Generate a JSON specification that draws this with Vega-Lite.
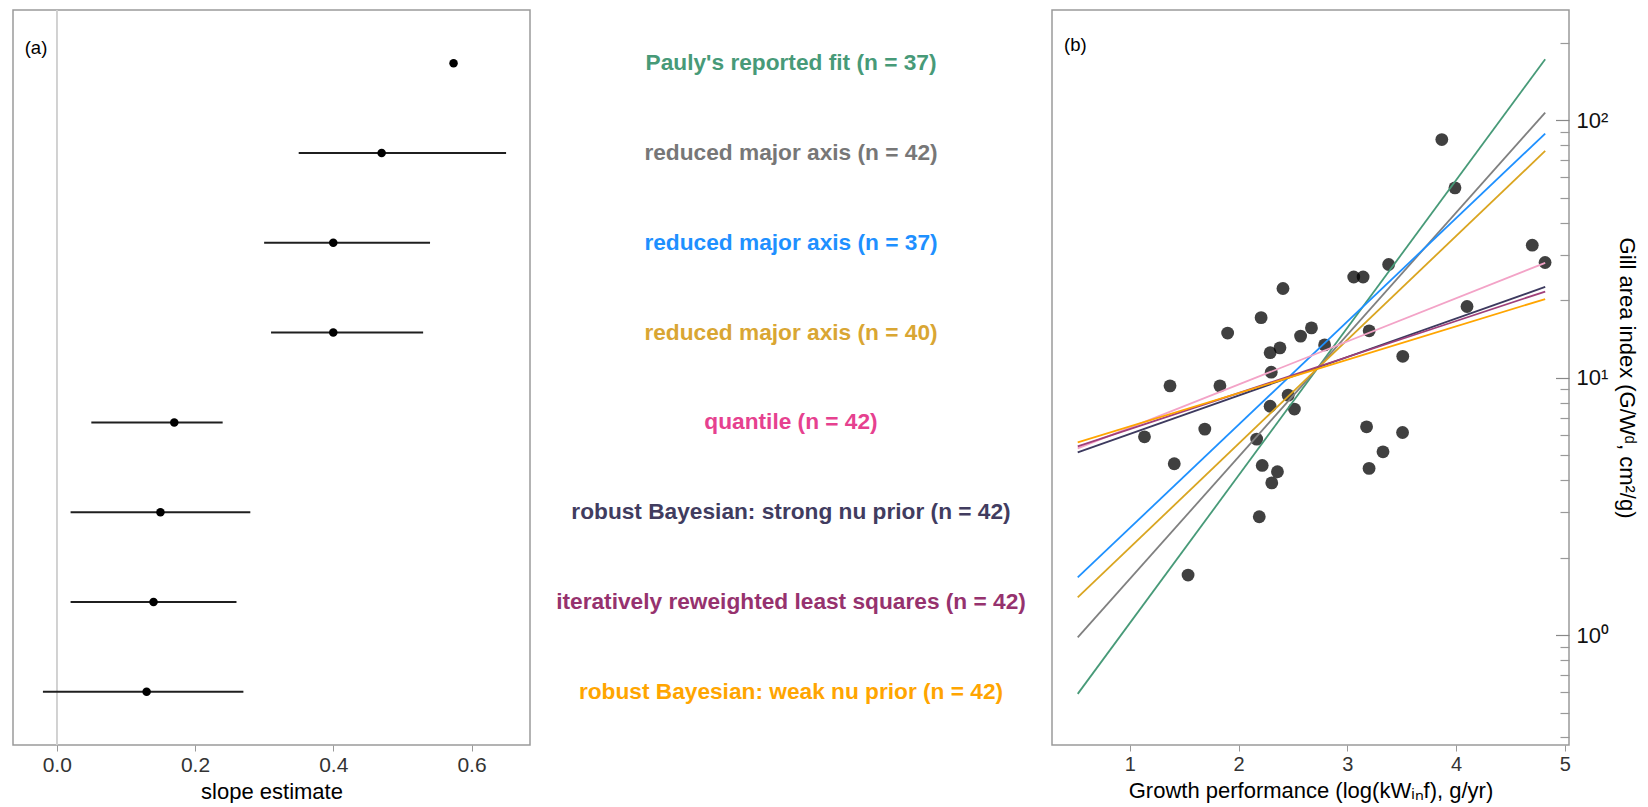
{
  "$schema": "https://vega.github.io/schema/vega-lite/v6.json",
  "background": "white",
  "padding": {"left": 12, "top": 8, "right": 0, "bottom": 0},
  "spacing": 0,
  "bounds": "flush",
  "config": {
    "font": "Liberation Sans",
    "view": {"stroke": "#9a9a9a", "strokeWidth": 1.5},
    "axis": {
      "labelFont": "Liberation Sans",
      "titleFont": "Liberation Sans",
      "titleFontWeight": "normal",
      "labelColor": "#333333",
      "titleColor": "#000000",
      "tickColor": "#999999",
      "grid": false,
      "domain": false
    }
  },
  "datasets": {
    "slopes": [
      {"label": "Pauly's reported fit (n = 37)", "est": 0.574, "lo": null, "hi": null},
      {"label": "reduced major axis (n = 42)", "est": 0.47, "lo": 0.35, "hi": 0.65},
      {"label": "reduced major axis (n = 37)", "est": 0.40, "lo": 0.30, "hi": 0.54},
      {"label": "reduced major axis (n = 40)", "est": 0.40, "lo": 0.31, "hi": 0.53},
      {"label": "quantile (n = 42)", "est": 0.17, "lo": 0.05, "hi": 0.24},
      {"label": "robust Bayesian: strong nu prior (n = 42)", "est": 0.15, "lo": 0.02, "hi": 0.28},
      {"label": "iteratively reweighted least squares (n = 42)", "est": 0.14, "lo": 0.02, "hi": 0.26},
      {"label": "robust Bayesian: weak nu prior (n = 42)", "est": 0.13, "lo": -0.02, "hi": 0.27}
    ],
    "gill": [
      {"x": 3.869, "y": 84.1}, {"x": 3.990, "y": 54.6}, {"x": 4.701, "y": 32.7},
      {"x": 4.819, "y": 28.0}, {"x": 3.380, "y": 27.5}, {"x": 3.059, "y": 24.6},
      {"x": 3.145, "y": 24.6}, {"x": 2.408, "y": 22.2}, {"x": 2.207, "y": 17.1},
      {"x": 1.899, "y": 14.9}, {"x": 4.101, "y": 18.9}, {"x": 3.201, "y": 15.2},
      {"x": 2.670, "y": 15.6}, {"x": 2.570, "y": 14.5}, {"x": 2.791, "y": 13.4},
      {"x": 2.380, "y": 13.05}, {"x": 2.290, "y": 12.5}, {"x": 3.510, "y": 12.1},
      {"x": 2.300, "y": 10.5}, {"x": 1.369, "y": 9.29}, {"x": 1.828, "y": 9.29},
      {"x": 2.456, "y": 8.55}, {"x": 2.290, "y": 7.74}, {"x": 2.513, "y": 7.55},
      {"x": 1.134, "y": 5.89}, {"x": 1.689, "y": 6.31}, {"x": 3.177, "y": 6.44},
      {"x": 3.508, "y": 6.12}, {"x": 2.166, "y": 5.77}, {"x": 1.408, "y": 4.63},
      {"x": 2.217, "y": 4.56}, {"x": 2.357, "y": 4.31}, {"x": 3.328, "y": 5.15},
      {"x": 3.200, "y": 4.44}, {"x": 2.305, "y": 3.90}, {"x": 2.190, "y": 2.88},
      {"x": 1.535, "y": 1.71}
    ],
    "fits": [
      {"label": "Pauly's reported fit (n = 37)", "x": 0.52, "y": 0.591},
      {"label": "Pauly's reported fit (n = 37)", "x": 4.82, "y": 172.6},
      {"label": "reduced major axis (n = 42)", "x": 0.52, "y": 0.979},
      {"label": "reduced major axis (n = 42)", "x": 4.82, "y": 107.0},
      {"label": "reduced major axis (n = 37)", "x": 0.52, "y": 1.674},
      {"label": "reduced major axis (n = 37)", "x": 4.82, "y": 88.7},
      {"label": "reduced major axis (n = 40)", "x": 0.52, "y": 1.40},
      {"label": "reduced major axis (n = 40)", "x": 4.82, "y": 76.0},
      {"label": "quantile (n = 42)", "x": 0.52, "y": 5.31},
      {"label": "quantile (n = 42)", "x": 4.82, "y": 27.9},
      {"label": "robust Bayesian: strong nu prior (n = 42)", "x": 0.52, "y": 5.12},
      {"label": "robust Bayesian: strong nu prior (n = 42)", "x": 4.82, "y": 22.5},
      {"label": "iteratively reweighted least squares (n = 42)", "x": 0.52, "y": 5.41},
      {"label": "iteratively reweighted least squares (n = 42)", "x": 4.82, "y": 21.6},
      {"label": "robust Bayesian: weak nu prior (n = 42)", "x": 0.52, "y": 5.60},
      {"label": "robust Bayesian: weak nu prior (n = 42)", "x": 4.82, "y": 20.2}
    ]
  },
  "hconcat": [
    {
      "width": 517,
      "height": 735,
      "data": {"name": "slopes"},
      "layer": [
        {
          "mark": {"type": "rule", "color": "#d0d0d0", "strokeWidth": 1},
          "encoding": {
            "x": {"datum": 0, "type": "quantitative",
                  "scale": {"domain": [-0.0633, 0.6846], "nice": false, "zero": false},
                  "axis": {"values": [0, 0.2, 0.4, 0.6], "format": ".1f", "tickSize": 6, "labelFontSize": 21, "labelPadding": 3, "title": "slope estimate", "titleFontSize": 22, "titlePadding": 6}}
          }
        },
        {
          "mark": {"type": "rule", "color": "#1f1f1f", "strokeWidth": 2},
          "encoding": {
            "x": {"field": "lo", "type": "quantitative",
                  "scale": {"domain": [-0.0633, 0.6846], "nice": false, "zero": false},
                  "axis": {"values": [0, 0.2, 0.4, 0.6], "format": ".1f", "tickSize": 6, "labelFontSize": 21, "labelPadding": 3, "title": "slope estimate", "titleFontSize": 22, "titlePadding": 6}},
            "x2": {"field": "hi"},
            "y": {"field": "label", "type": "nominal",
                  "scale": {"type": "point", "domain": ["Pauly's reported fit (n = 37)", "reduced major axis (n = 42)", "reduced major axis (n = 37)", "reduced major axis (n = 40)", "quantile (n = 42)", "robust Bayesian: strong nu prior (n = 42)", "iteratively reweighted least squares (n = 42)", "robust Bayesian: weak nu prior (n = 42)"], "padding": 0.592},
                  "axis": null}
          }
        },
        {
          "mark": {"type": "circle", "size": 72, "color": "#000000", "opacity": 1},
          "encoding": {
            "x": {"field": "est", "type": "quantitative",
                  "scale": {"domain": [-0.0633, 0.6846], "nice": false, "zero": false},
                  "axis": {"values": [0, 0.2, 0.4, 0.6], "format": ".1f", "tickSize": 6, "labelFontSize": 21, "labelPadding": 3, "title": "slope estimate", "titleFontSize": 22, "titlePadding": 6}},
            "y": {"field": "label", "type": "nominal", "axis": null}
          }
        },
        {
          "data": {"values": [{"panel": "(a)"}]},
          "mark": {"type": "text", "align": "left", "baseline": "middle", "fontSize": 18.5, "fontWeight": "normal", "dy": -15, "color": "#000000"},
          "encoding": {
            "text": {"field": "panel"},
            "x": {"datum": -0.0464, "type": "quantitative"},
            "y": {"datum": "Pauly's reported fit (n = 37)", "type": "nominal"}
          }
        }
      ]
    },
    {
      "width": 522,
      "height": 735,
      "view": {"stroke": null},
      "data": {"name": "slopes"},
      "mark": {"type": "text", "fontWeight": "bold", "fontSize": 22.7, "font": "Liberation Sans", "baseline": "middle"},
      "encoding": {
        "y": {"field": "label", "type": "nominal",
              "scale": {"type": "point", "domain": ["Pauly's reported fit (n = 37)", "reduced major axis (n = 42)", "reduced major axis (n = 37)", "reduced major axis (n = 40)", "quantile (n = 42)", "robust Bayesian: strong nu prior (n = 42)", "iteratively reweighted least squares (n = 42)", "robust Bayesian: weak nu prior (n = 42)"], "padding": 0.592},
              "axis": null},
        "text": {"field": "label"},
        "color": {"field": "label", "type": "nominal",
                  "scale": {"domain": ["Pauly's reported fit (n = 37)", "reduced major axis (n = 42)", "reduced major axis (n = 37)", "reduced major axis (n = 40)", "quantile (n = 42)", "robust Bayesian: strong nu prior (n = 42)", "iteratively reweighted least squares (n = 42)", "robust Bayesian: weak nu prior (n = 42)"],
                            "range": ["#479a78", "#777777", "#1e90ff", "#d9a633", "#e6418f", "#413c5f", "#96326e", "#ffa500"]},
                  "legend": null}
      }
    },
    {
      "width": 517,
      "height": 735,
      "resolve": {"axis": {"y": "independent"}},
      "layer": [
        {
          "data": {"name": "gill"},
          "mark": {"type": "circle", "size": 165, "color": "#000000", "opacity": 0.75},
          "encoding": {
            "x": {"field": "x", "type": "quantitative",
                  "scale": {"domain": [0.2834, 5.039], "nice": false, "zero": false},
                  "axis": {"values": [1, 2, 3, 4, 5], "format": "d", "tickSize": 6, "labelFontSize": 20, "labelPadding": 3, "title": "Growth performance (log(kWᵢₙf), g/yr)", "titleFontSize": 22, "titlePadding": 6}},
            "y": {"field": "y", "type": "quantitative",
                  "scale": {"type": "log", "domain": [0.374, 268], "nice": false, "zero": false},
                  "axis": {"orient": "right", "values": [0.4, 0.5, 0.6, 0.7, 0.8, 0.9, 2, 3, 4, 5, 6, 7, 8, 9, 20, 30, 40, 50, 60, 70, 80, 90, 200], "tickSize": 9, "offset": -9, "labels": false, "title": null, "tickColor": "#999999", "tickWidth": 1.2}}
          }
        },
        {
          "data": {"name": "fits"},
          "mark": {"type": "line", "strokeWidth": 1.8},
          "encoding": {
            "x": {"field": "x", "type": "quantitative",
                  "scale": {"domain": [0.2834, 5.039], "nice": false, "zero": false},
                  "axis": {"values": [1, 2, 3, 4, 5], "format": "d", "tickSize": 6, "labelFontSize": 20, "labelPadding": 3, "title": "Growth performance (log(kWᵢₙf), g/yr)", "titleFontSize": 22, "titlePadding": 6}},
            "y": {"field": "y", "type": "quantitative",
                  "scale": {"type": "log", "domain": [0.374, 268], "nice": false, "zero": false},
                  "axis": {"orient": "right", "values": [1, 10, 100], "tickSize": 13.5, "offset": -13.5, "labelPadding": 7, "labelFontSize": 22, "labelColor": "#111111",
                           "labelExpr": "datum.value == 1 ? '10⁰' : datum.value == 10 ? '10¹' : '10²'",
                           "title": "Gill area index (G/Wᵈ, cm²/g)", "titleFontSize": 22, "titlePadding": 6, "tickColor": "#888888", "tickWidth": 1.2}},
            "stroke": {"field": "label", "type": "nominal",
                       "scale": {"domain": ["Pauly's reported fit (n = 37)", "reduced major axis (n = 42)", "reduced major axis (n = 37)", "reduced major axis (n = 40)", "quantile (n = 42)", "robust Bayesian: strong nu prior (n = 42)", "iteratively reweighted least squares (n = 42)", "robust Bayesian: weak nu prior (n = 42)"],
                                 "range": ["#479a78", "#808080", "#1e90ff", "#daa520", "#f3a3c7", "#3d3a5f", "#a0407a", "#ffa500"]},
                       "legend": null}
          }
        },
        {
          "data": {"values": [{"panel": "(b)"}]},
          "mark": {"type": "text", "align": "left", "baseline": "middle", "fontSize": 18.5, "fontWeight": "normal", "color": "#000000"},
          "encoding": {
            "text": {"field": "panel"},
            "x": {"datum": 0.394, "type": "quantitative"},
            "y": {"datum": 195.5, "type": "quantitative", "axis": null}
          }
        }
      ]
    }
  ]
}
